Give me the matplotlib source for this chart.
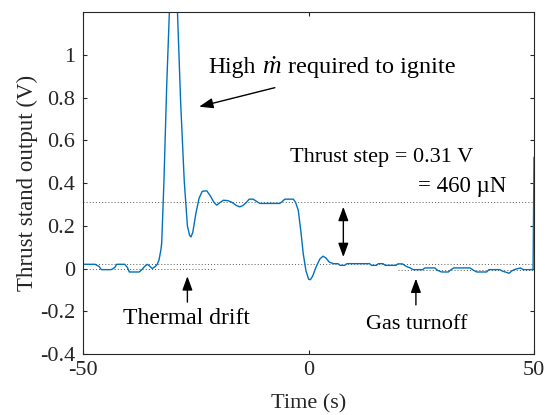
import numpy as np
import matplotlib.pyplot as plt

plt.rcParams['font.family'] = ['Liberation Serif', 'DejaVu Serif']
plt.rcParams['axes.unicode_minus'] = False

# thrust stand trace (time in s, output in V)
tiempo = [-50, -47.4, -46.5, -46.0, -43.8, -43.0, -42.6, -40.8, -40.2, -39.8,
          -37.6, -37.0, -36.4, -35.8, -35.2, -34.7, -34.0, -33.6,
          -33.2, -32.8, -32.6, -32.1, -31.5, -30.9, -30.4, -30.0, -29.6,
          -29.1, -28.4, -27.6, -26.9, -26.4, -26.1, -25.7, -25.0, -24.3,
          -23.6, -22.6, -21.8, -21.0, -20.4, -19.6, -18.9, -17.9, -17.0,
          -16.0, -15.3, -14.6, -13.8, -13.2, -12.3, -11.6, -10.8, -6.4,
          -5.8, -5.3, -3.4, -2.9, -2.3, -1.7, -1.2, -0.6, 0.0, 0.4, 0.9,
          1.7, 2.5, 3.2, 3.8, 4.6, 5.5, 6.5, 7.0, 8.0, 8.5, 13.5, 14.0,
          15.0, 15.5, 16.5, 17.0, 19.4, 19.8, 20.8, 21.7, 22.5, 23.2, 25.3,
          25.8, 28.0, 28.6, 29.5, 31.0, 31.6, 32.2, 35.8, 36.6, 37.3, 39.5,
          40.0, 42.4, 43.0, 44.5, 45.0, 45.6, 47.0, 47.6, 49.8, 50.0]
salida = [0.02, 0.02, 0.01, -0.005, -0.005, 0.005, 0.02, 0.02, 0.005, -0.016,
          -0.016, -0.005, 0.01, 0.02, 0.01, 0.0, 0.01, 0.02,
          0.04, 0.085, 0.12, 0.41, 0.85, 1.2, 1.45, 1.52, 1.45,
          1.2, 0.78, 0.41, 0.2, 0.155, 0.148, 0.17, 0.26, 0.33,
          0.362, 0.364, 0.34, 0.31, 0.297, 0.31, 0.32, 0.318, 0.31,
          0.295, 0.289, 0.295, 0.31, 0.325, 0.325, 0.315, 0.305, 0.305,
          0.315, 0.325, 0.325, 0.31, 0.273, 0.17, 0.07, -0.01, -0.05, -0.052, -0.035,
          0.01, 0.045, 0.058, 0.05, 0.03, 0.023, 0.023, 0.015, 0.015, 0.023, 0.023, 0.015,
          0.015, 0.023, 0.023, 0.015, 0.015, 0.022, 0.022, 0.01, 0.003, -0.005, -0.005,
          0.003, 0.003, -0.008, -0.016, -0.016, -0.005, 0.003, 0.003, -0.008, -0.016, -0.016,
          -0.005, -0.005, -0.012, -0.022, -0.012, -0.005, 0.003, -0.005, -0.005, 0.52]

nivel_alto = 0.311
nivel_bajo = 0.023
deriva_izq = 0.0
deriva_der = -0.008

yticks = [-0.4, -0.2, 0, 0.2, 0.4, 0.6, 0.8, 1]
yticklabels = ['-0.4', '-0.2', '0', '0.2', '0.4', '0.6', '0.8', '1']
xticks = [-50, 0, 50]

fig = plt.figure(figsize=(5.45, 4.15), dpi=100)
ax = fig.add_axes([0.1528, 0.147, 0.827, 0.8234])

punteado = dict(color='0.35', lw=0.7, ls=(0, (1, 2.2)))
ax.axhline(nivel_alto, **punteado)
ax.axhline(nivel_bajo, **punteado)
ax.plot([-50, -20.5], [deriva_izq, deriva_izq], **punteado)
ax.plot([19.8, 50], [deriva_der, deriva_der], **punteado)

ax.plot(tiempo, salida, color='#0072BD', lw=1.0)

ax.set_xlim(-50, 50)
ax.set_ylim(-0.4, 1.2)
ax.set_xticks(xticks)
ax.set_xticklabels([str(v) for v in xticks])
ax.set_yticks(yticks)
ax.set_yticklabels(yticklabels)
ax.tick_params(direction='in', top=True, right=True, length=3, width=0.8,
               labelsize=16, colors='0.15')
ax.tick_params(axis='y', pad=6)
ax.tick_params(axis='x', pad=5)
for s in ax.spines.values():
    s.set_linewidth(0.8)
    s.set_color('0.15')

ax.set_xlabel('Time (s)', fontsize=16, color='0.15', labelpad=10.5)
ax.set_ylabel('Thrust stand output (V)', fontsize=16.5, color='0.15', labelpad=1)

flecha = dict(arrowstyle='-|>,head_length=0.6,head_width=0.22', color='k',
              lw=1.0, mutation_scale=14, shrinkA=0, shrinkB=0)
doble = dict(arrowstyle='<|-|>,head_length=0.6,head_width=0.22', color='k',
             lw=1.0, mutation_scale=14, shrinkA=0, shrinkB=0)

# "High m-dot required to ignite" in three pieces so the m-dot can be larger
ax.text(-22.3, 0.917, 'High', fontsize=17, ha='left', va='baseline')
ax.text(-10.4, 0.917, '\u1e41', fontsize=18.5, style='italic',
        family=['Liberation Serif', 'DejaVu Serif'], ha='left', va='baseline')
ax.text(-4.6, 0.917, 'required to ignite', fontsize=17.5, ha='left', va='baseline')
ax.annotate('', xy=(-24.3, 0.758), xytext=(-7.5, 0.847), arrowprops=flecha)

ax.text(-4.2, 0.5, 'Thrust step = 0.31 V', fontsize=16, ha='left', va='baseline')
ax.text(43.9, 0.359, '= 460 µN', fontsize=16.5, ha='right', va='baseline')
ax.annotate('', xy=(7.7, 0.054), xytext=(7.7, 0.289), arrowprops=doble)

ax.text(-27.1, -0.261, 'Thermal drift', fontsize=17, ha='center', va='baseline')
ax.annotate('', xy=(-26.9, -0.036), xytext=(-26.9, -0.157), arrowprops=flecha)

ax.text(24.0, -0.285, 'Gas turnoff', fontsize=16, ha='center', va='baseline')
ax.annotate('', xy=(23.8, -0.047), xytext=(23.8, -0.17), arrowprops=flecha)

fig.savefig('out.png', dpi=100)
